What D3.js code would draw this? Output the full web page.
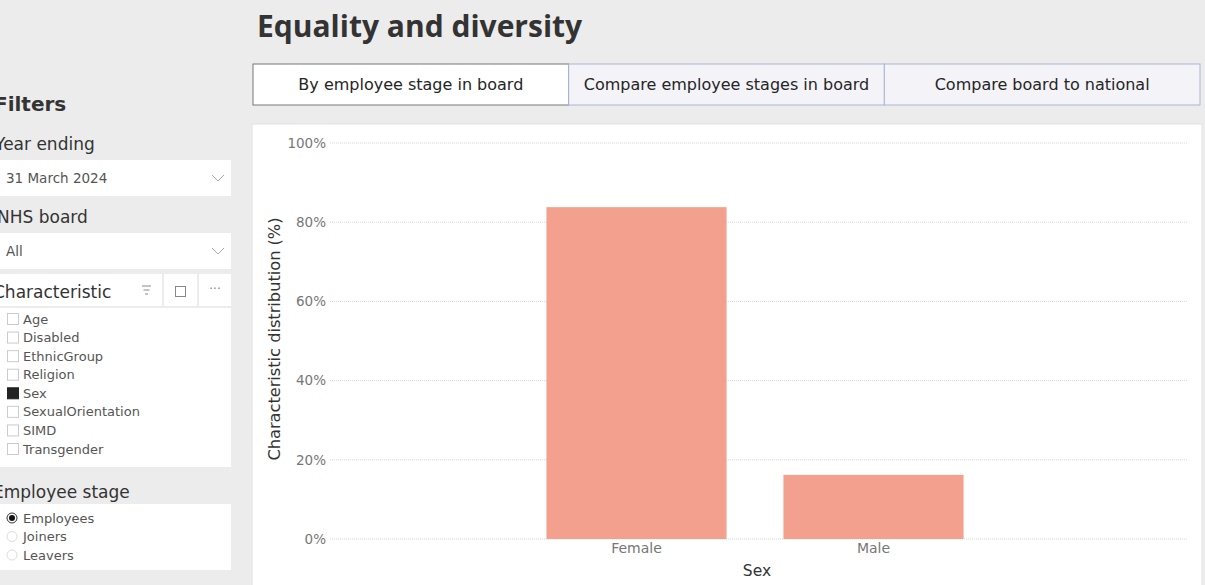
<!DOCTYPE html>
<html>
<head>
<meta charset="utf-8">
<script src="https://cdn.jsdelivr.net/npm/d3@7"></script>
<style>
  body { margin: 0; background: #ececec; overflow: hidden; }
  svg { display: block; font-family: "DejaVu Sans", sans-serif; }
</style>
</head>
<body>
<div id="page"></div>
<script>
// Chart data
const categories = ["Female", "Male"];
const shares = [83.8, 16.2];
const yTicks = [0, 20, 40, 60, 80, 100];

// Page text
const tabs = ["By employee stage in board", "Compare employee stages in board", "Compare board to national"];
const characteristics = ["Age", "Disabled", "EthnicGroup", "Religion", "Sex", "SexualOrientation", "SIMD", "Transgender"];
const selectedCharacteristic = "Sex";
const stages = ["Employees", "Joiners", "Leavers"];
const selectedStage = "Employees";

const width = 1205, height = 585;

const svg = d3.select("#page")
    .append("svg")
    .attr("width", width)
    .attr("height", height);

svg.append("rect").attr("width", width).attr("height", height).attr("fill", "#ececec");

// Title
svg.append("text")
    .attr("x", 257).attr("y", 37)
    .attr("font-family", "'Open Sans', sans-serif")
    .attr("font-size", 30).attr("font-weight", 700)
    .attr("fill", "#333")
    .text("Equality and diversity");

// Tab buttons
const tabX = d3.scaleBand().domain(tabs).range([253, 1200]);
const tab = svg.selectAll("g.tab").data(tabs).enter().append("g")
    .attr("transform", d => `translate(${tabX(d)},64)`);
tab.append("rect")
    .attr("width", tabX.bandwidth()).attr("height", 41)
    .attr("fill", (d, i) => i === 0 ? "#fff" : "#f4f4f8")
    .attr("stroke", (d, i) => i === 0 ? "#777" : "#a9b6d2")
    .attr("stroke-width", 1);
tab.append("text")
    .attr("x", tabX.bandwidth() / 2).attr("y", 26)
    .attr("text-anchor", "middle")
    .attr("font-size", 16).attr("fill", "#252525")
    .text(d => d);

// Filters panel
const side = svg.append("g");
side.append("text").attr("x", -6).attr("y", 111)
    .attr("font-size", 20).attr("font-weight", 700).attr("fill", "#333").text("Filters");

function dropdown(label, value, y, lx) {
    side.append("text").attr("x", lx).attr("y", y)
        .attr("font-size", 17).attr("fill", "#333").text(label);
    side.append("rect").attr("x", 0).attr("y", y + 10).attr("width", 231).attr("height", 36).attr("fill", "#fff");
    side.append("text").attr("x", 6).attr("y", y + 33)
        .attr("font-size", 13.5).attr("fill", "#555").text(value);
    side.append("path")
        .attr("d", `M212,${y + 25} l6,6 l6,-6`)
        .attr("fill", "none").attr("stroke", "#aaa").attr("stroke-width", 1);
}
dropdown("Year ending", "31 March 2024", 150, -5);
dropdown("NHS board", "All", 223, -3);

// Characteristic slicer header
side.append("rect").attr("x", 0).attr("y", 274).attr("width", 162).attr("height", 32).attr("fill", "#fff");
side.append("rect").attr("x", 164).attr("y", 274).attr("width", 33).attr("height", 32).attr("fill", "#fff");
side.append("rect").attr("x", 199).attr("y", 274).attr("width", 32).attr("height", 32).attr("fill", "#fff");
side.append("text").attr("x", -7).attr("y", 298)
    .attr("font-size", 17).attr("fill", "#333").text("Characteristic");
[9, 6, 3].forEach((w, i) => {
    side.append("line").attr("x1", 142 + (9 - w) / 2).attr("x2", 142 + (9 - w) / 2 + w)
        .attr("y1", 286 + i * 4).attr("y2", 286 + i * 4)
        .attr("stroke", "#888").attr("stroke-width", 1);
});
side.append("rect").attr("x", 175.5).attr("y", 286.5).attr("width", 10).attr("height", 10)
    .attr("fill", "none").attr("stroke", "#888");
side.append("text").attr("x", 215).attr("y", 293).attr("text-anchor", "middle")
    .attr("font-size", 12).attr("fill", "#888").text("···");

// Characteristic list
side.append("rect").attr("x", 0).attr("y", 308).attr("width", 231).attr("height", 159).attr("fill", "#fff");
const listY = d3.scalePoint().domain(characteristics).range([319, 449]);
const item = side.selectAll("g.char").data(characteristics).enter().append("g")
    .attr("transform", d => `translate(0,${listY(d)})`);
item.append("rect").attr("x", 7.5).attr("y", -5.5).attr("width", 11).attr("height", 11)
    .attr("fill", d => d === selectedCharacteristic ? "#222" : "#fff")
    .attr("stroke", d => d === selectedCharacteristic ? "#222" : "#ccc");
item.append("text").attr("x", 23).attr("y", 4.5)
    .attr("font-size", 13).attr("fill", "#555").text(d => d);

// Employee stage
side.append("text").attr("x", -7).attr("y", 498)
    .attr("font-size", 17).attr("fill", "#333").text("Employee stage");
side.append("rect").attr("x", 0).attr("y", 504).attr("width", 231).attr("height", 66).attr("fill", "#fff");
const stageY = d3.scalePoint().domain(stages).range([518, 555]);
const st = side.selectAll("g.stage").data(stages).enter().append("g")
    .attr("transform", d => `translate(0,${stageY(d)})`);
st.append("circle").attr("cx", 12).attr("cy", 0).attr("r", 5)
    .attr("fill", "#fff").attr("stroke", d => d === selectedStage ? "#333" : "#ddd");
st.filter(d => d === selectedStage).append("circle").attr("cx", 12).attr("cy", 0).attr("r", 3).attr("fill", "#111");
st.append("text").attr("x", 23).attr("y", 4.5)
    .attr("font-size", 13).attr("fill", "#555").text(d => d);

// Chart card
svg.append("rect").attr("x", 252).attr("y", 124).attr("width", 950).attr("height", 470)
    .attr("fill", "#fff").attr("stroke", "#e2e2e2");

const x = d3.scaleBand().domain(categories).range([327, 1183]).paddingInner(0.24).paddingOuter(0.926);
const y = d3.scaleLinear().domain([0, 100]).range([539, 143]);

// Gridlines
svg.append("g").selectAll("line").data(yTicks).enter().append("line")
    .attr("x1", 330).attr("x2", 1188)
    .attr("y1", d => y(d)).attr("y2", d => y(d))
    .attr("stroke", "#d6d6d6").attr("stroke-width", 1)
    .attr("stroke-dasharray", "1,1");

// Y axis labels
const yAxis = svg.append("g")
    .attr("transform", "translate(330,0)")
    .call(d3.axisLeft(y).tickValues(yTicks).tickSize(0).tickPadding(4).tickFormat(d => d + "%"));
yAxis.select(".domain").remove();
yAxis.selectAll("text").attr("font-size", 13.5).attr("fill", "#777")
    .attr("font-family", "'DejaVu Sans', sans-serif");

// Bars
svg.append("g").selectAll("rect").data(categories).enter().append("rect")
    .attr("x", d => x(d))
    .attr("y", (d, i) => y(shares[i]))
    .attr("width", x.bandwidth())
    .attr("height", (d, i) => y(0) - y(shares[i]))
    .attr("fill", "#f3a08e");

// X axis labels
const xAxis = svg.append("g")
    .attr("transform", `translate(0,${y(0)})`)
    .call(d3.axisBottom(x).tickSize(0).tickPadding(4));
xAxis.select(".domain").remove();
xAxis.selectAll("text").attr("font-size", 14).attr("fill", "#777")
    .attr("font-family", "'DejaVu Sans', sans-serif");

// Axis titles
svg.append("text")
    .attr("x", 757).attr("y", 576)
    .attr("text-anchor", "middle")
    .attr("font-size", 15.5).attr("fill", "#333")
    .text("Sex");

svg.append("text")
    .attr("transform", "translate(280,339) rotate(-90)")
    .attr("text-anchor", "middle")
    .attr("font-size", 16.2).attr("fill", "#333")
    .text("Characteristic distribution (%)");
</script>
</body>
</html>
